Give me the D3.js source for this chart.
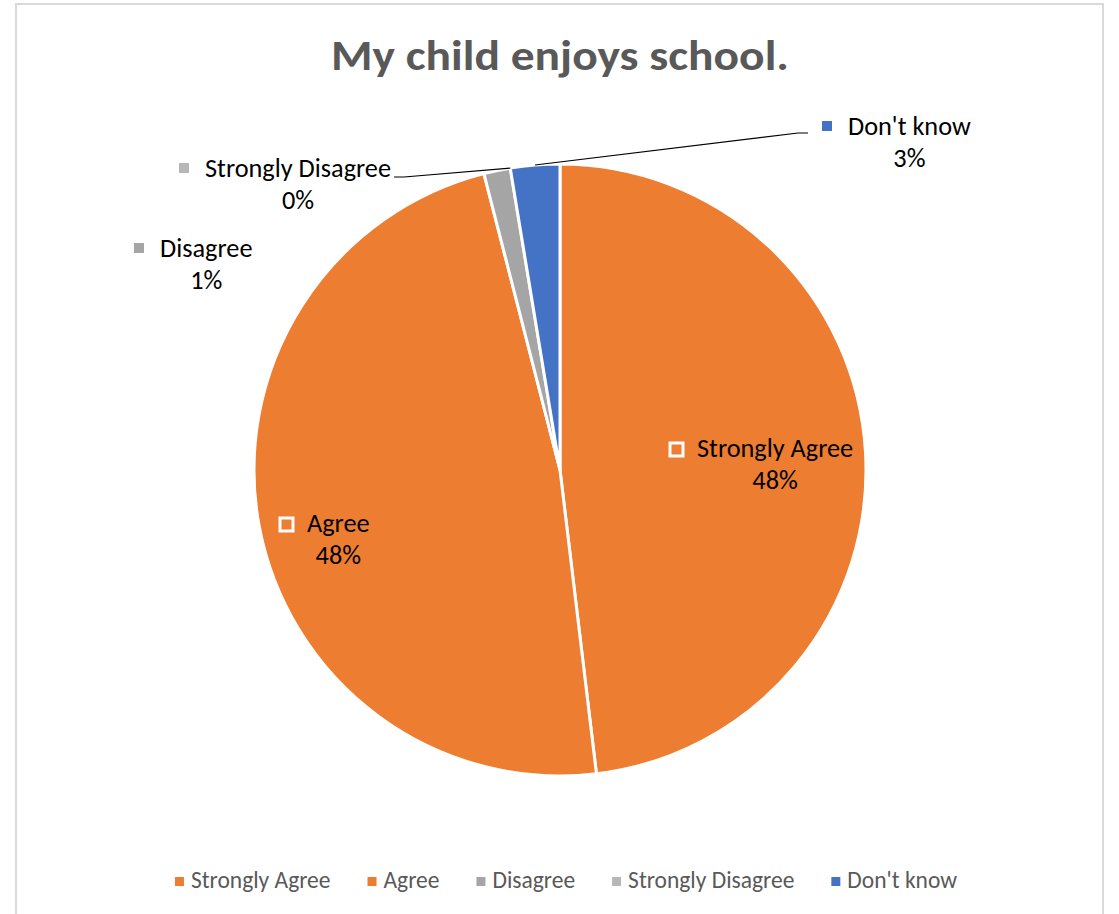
<!DOCTYPE html>
<html>
<head>
<meta charset="utf-8">
<script src="https://cdn.jsdelivr.net/npm/d3@7"></script>
<style>
  body { margin: 0; background: #fff; }
  svg { display: block; }
  text { font-family: Carlito, Calibri, Lato, sans-serif; }
</style>
</head>
<body>
<div id="chart"></div>
<script>
(function() {
  const width = 1119;
  const height = 914;

  // Data
  const categories = ["Strongly Agree", "Agree", "Disagree", "Strongly Disagree", "Don't know"];
  const values = [48.1, 47.9, 1.4, 0, 2.6];
  const colors = ["#ED7D31", "#ED7D31", "#A5A5A5", "#B7B7B7", "#4472C4"];
  const title = "My child enjoys school.";

  // label placement relative to pie centre (x = left of name text, y = baseline)
  const labelPos = {
    "Strongly Agree":    { x: 137,  y: -13, inside: true },
    "Agree":             { x: -253, y: 62,  inside: true },
    "Disagree":          { x: -400, y: -213 },
    "Strongly Disagree": { x: -355, y: -293, leader: true },
    "Don't know":        { x: 288,  y: -335, leader: true }
  };

  const cx = 560, cy = 470, radius = 306;
  const labelSize = 26.3;

  const svg = d3.select("#chart")
    .append("svg")
    .attr("width", width)
    .attr("height", height);

  // chart border
  svg.append("rect")
    .attr("x", 16).attr("y", 4)
    .attr("width", 1087).attr("height", 920)
    .attr("fill", "#fff")
    .attr("stroke", "#d9d9d9")
    .attr("stroke-width", 2);

  // Title
  svg.append("text")
    .attr("x", 560).attr("y", 70)
    .attr("text-anchor", "middle")
    .attr("font-size", "43px")
    .attr("font-weight", "bold")
    .attr("fill", "#595959")
    .attr("textLength", 458)
    .attr("lengthAdjust", "spacingAndGlyphs")
    .text(title);

  const data = categories.map((c, i) => ({ name: c, value: values[i], color: colors[i] }));
  const total = d3.sum(values);

  const pie = d3.pie().value(d => d.value).sort(null);
  const arc = d3.arc().innerRadius(0).outerRadius(radius);
  const outerArc = d3.arc().innerRadius(radius).outerRadius(radius);

  const g = svg.append("g").attr("transform", `translate(${cx},${cy})`);
  const arcs = pie(data);

  g.selectAll("path.slice")
    .data(arcs.filter(d => d.data.value > 0))
    .join("path")
    .attr("class", "slice")
    .attr("d", arc)
    .attr("fill", d => d.data.color)
    .attr("stroke", "#fff")
    .attr("stroke-width", 3)
    .attr("stroke-linejoin", "round");

  // Data labels
  arcs.forEach(d => {
    const p = labelPos[d.data.name];
    const pct = Math.round(d.data.value / total * 100) + "%";
    const lg = g.append("g");

    const name = lg.append("text")
      .attr("x", p.x).attr("y", p.y)
      .attr("font-size", labelSize + "px")
      .attr("fill", "#000")
      .text(d.data.name);
    const w = name.node().getComputedTextLength();

    lg.append("text")
      .attr("x", p.x + w / 2).attr("y", p.y + 32)
      .attr("text-anchor", "middle")
      .attr("font-size", labelSize + "px")
      .attr("fill", "#000")
      .text(pct);

    if (p.inside) {
      lg.append("rect")
        .attr("x", p.x - 27).attr("y", p.y - 14)
        .attr("width", 13).attr("height", 13)
        .attr("fill", "none")
        .attr("stroke", "#fff")
        .attr("stroke-width", 3);
    } else {
      lg.append("rect")
        .attr("x", p.x - 26).attr("y", p.y - 14)
        .attr("width", 10).attr("height", 10)
        .attr("fill", d.data.color);
    }

    // leader line from slice edge to label
    if (p.leader) {
      const start = outerArc.centroid(d);
      const end = p.x > 0 ? [p.x - 40, p.y - 2] : [p.x + w + 3, p.y];
      const knee = p.x > 0 ? [end[0] - 10, end[1]] : [end[0] + 10, end[1]];
      lg.append("path")
        .attr("d", d3.line()([start, knee, end]))
        .attr("fill", "none")
        .attr("stroke", "#000")
        .attr("stroke-width", 1.2);
    }
  });

  // Legend
  const legend = svg.append("g");
  let x = 0;
  data.forEach(d => {
    const item = legend.append("g").attr("transform", `translate(${x},0)`);
    item.append("rect")
      .attr("x", 0).attr("y", -11)
      .attr("width", 9).attr("height", 9)
      .attr("fill", d.color);
    const t = item.append("text")
      .attr("x", 16).attr("y", 0)
      .attr("font-size", "23.5px")
      .attr("fill", "#595959")
      .text(d.name);
    x += 16 + t.node().getComputedTextLength() + 37;
  });
  const legendW = x - 37;
  legend.attr("transform", `translate(${566 - legendW / 2},888)`);
})();
</script>
</body>
</html>
